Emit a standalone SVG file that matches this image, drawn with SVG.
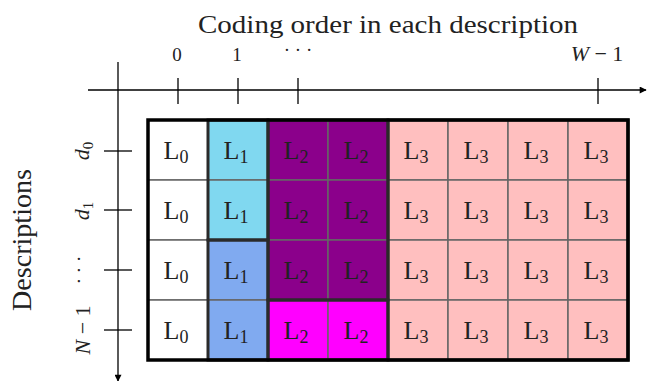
<svg xmlns="http://www.w3.org/2000/svg" width="648" height="381" viewBox="0 0 648 381" font-family="'Liberation Serif', 'DejaVu Serif', serif">
<defs>
<marker id="arr" viewBox="0 0 10 10" refX="9" refY="5" markerWidth="8" markerHeight="7" markerUnits="userSpaceOnUse" orient="auto"><path d="M0,0 L10,5 L0,10 z" fill="#000"/></marker>
<style>
.t{font-family:'Liberation Serif','DejaVu Serif',serif;fill:#222;}
.c{stroke:#666;stroke-width:1.5;}
.lbl{font-size:26px;text-anchor:middle;}
.sub{font-size:18px;}
.grp{fill:none;stroke:#2a2a2a;stroke-width:3;}
.ax{stroke:#000;stroke-width:1.3;fill:none;}
.w{fill:#ffffff}.c1{fill:#80d8f0}.c1b{fill:#80aaf0}.c2{fill:#8b008b}.c2b{fill:#ff00ff}.c3{fill:#ffbfbf}
</style>
</defs>
<rect width="648" height="381" fill="#fff"/>
<text class="t" x="388" y="33" font-size="26" text-anchor="middle" textLength="380" lengthAdjust="spacingAndGlyphs">Coding order in each description</text>
<text class="t" x="177" y="61" font-size="19" text-anchor="middle">0</text>
<text class="t" x="237" y="61" font-size="19" text-anchor="middle">1</text>
<text class="t" x="298" y="56" font-size="19" text-anchor="middle">· · ·</text>
<text class="t" x="597" y="61" font-size="22" text-anchor="middle"><tspan font-style="italic">W</tspan> − 1</text>
<text class="t" font-size="27" text-anchor="middle" transform="translate(31,240) rotate(-90)" textLength="142" lengthAdjust="spacingAndGlyphs">Descriptions</text>
<text class="t" font-size="22" text-anchor="middle" transform="translate(89,151) rotate(-90)"><tspan font-style="italic">d</tspan><tspan font-size="15" dy="4">0</tspan></text>
<text class="t" font-size="22" text-anchor="middle" transform="translate(89,211) rotate(-90)"><tspan font-style="italic">d</tspan><tspan font-size="15" dy="4">1</tspan></text>
<text class="t" font-size="19" text-anchor="middle" transform="translate(85,270) rotate(-90)">· · ·</text>
<text class="t" font-size="22" text-anchor="middle" transform="translate(90,330) rotate(-90)"><tspan font-style="italic">N</tspan> − 1</text>
<g id="connectors">
<line class="ax" x1="88" y1="90" x2="646" y2="90" marker-end="url(#arr)"/>
<line class="ax" x1="118" y1="62" x2="118" y2="381" marker-end="url(#arr)" stroke="#555"/>
<line class="ax" x1="178" y1="78" x2="178" y2="104"/>
<line class="ax" x1="238" y1="78" x2="238" y2="104"/>
<line class="ax" x1="298" y1="78" x2="298" y2="104"/>
<line class="ax" x1="598" y1="78" x2="598" y2="104"/>
<line class="ax" x1="104" y1="151" x2="132" y2="151"/>
<line class="ax" x1="104" y1="210" x2="132" y2="210"/>
<line class="ax" x1="104" y1="270" x2="132" y2="270"/>
<line class="ax" x1="104" y1="330" x2="132" y2="330"/>
</g>
<g id="r0c0"><rect class="c w" x="148" y="120" width="60" height="60"/><text class="t lbl" x="176" y="159">L<tspan class="sub" dy="4">0</tspan></text></g>
<g id="r1c0"><rect class="c w" x="148" y="180" width="60" height="60"/><text class="t lbl" x="176" y="219">L<tspan class="sub" dy="4">0</tspan></text></g>
<g id="r2c0"><rect class="c w" x="148" y="240" width="60" height="60"/><text class="t lbl" x="176" y="279">L<tspan class="sub" dy="4">0</tspan></text></g>
<g id="r3c0"><rect class="c w" x="148" y="300" width="60" height="60"/><text class="t lbl" x="176" y="339">L<tspan class="sub" dy="4">0</tspan></text></g>
<g id="r0c1"><rect class="c c1" x="208" y="120" width="60" height="60"/><text class="t lbl" x="236" y="159">L<tspan class="sub" dy="4">1</tspan></text></g>
<g id="r1c1"><rect class="c c1" x="208" y="180" width="60" height="60"/><text class="t lbl" x="236" y="219">L<tspan class="sub" dy="4">1</tspan></text></g>
<g id="r2c1"><rect class="c c1b" x="208" y="240" width="60" height="60"/><text class="t lbl" x="236" y="279">L<tspan class="sub" dy="4">1</tspan></text></g>
<g id="r3c1"><rect class="c c1b" x="208" y="300" width="60" height="60"/><text class="t lbl" x="236" y="339">L<tspan class="sub" dy="4">1</tspan></text></g>
<g id="r0c2"><rect class="c c2" x="268" y="120" width="60" height="60" stroke="#222"/><text class="t lbl" x="296" y="159">L<tspan class="sub" dy="4">2</tspan></text></g>
<g id="r0c3"><rect class="c c2" x="328" y="120" width="60" height="60" stroke="#222"/><text class="t lbl" x="356" y="159">L<tspan class="sub" dy="4">2</tspan></text></g>
<g id="r1c2"><rect class="c c2" x="268" y="180" width="60" height="60" stroke="#222"/><text class="t lbl" x="296" y="219">L<tspan class="sub" dy="4">2</tspan></text></g>
<g id="r1c3"><rect class="c c2" x="328" y="180" width="60" height="60" stroke="#222"/><text class="t lbl" x="356" y="219">L<tspan class="sub" dy="4">2</tspan></text></g>
<g id="r2c2"><rect class="c c2" x="268" y="240" width="60" height="60" stroke="#222"/><text class="t lbl" x="296" y="279">L<tspan class="sub" dy="4">2</tspan></text></g>
<g id="r2c3"><rect class="c c2" x="328" y="240" width="60" height="60" stroke="#222"/><text class="t lbl" x="356" y="279">L<tspan class="sub" dy="4">2</tspan></text></g>
<g id="r3c2"><rect class="c c2b" x="268" y="300" width="60" height="60" stroke="#222"/><text class="t lbl" x="296" y="339">L<tspan class="sub" dy="4">2</tspan></text></g>
<g id="r3c3"><rect class="c c2b" x="328" y="300" width="60" height="60" stroke="#222"/><text class="t lbl" x="356" y="339">L<tspan class="sub" dy="4">2</tspan></text></g>
<g id="r0c4"><rect class="c c3" x="388" y="120" width="60" height="60"/><text class="t lbl" x="416" y="159">L<tspan class="sub" dy="4">3</tspan></text></g>
<g id="r0c5"><rect class="c c3" x="448" y="120" width="60" height="60"/><text class="t lbl" x="476" y="159">L<tspan class="sub" dy="4">3</tspan></text></g>
<g id="r0c6"><rect class="c c3" x="508" y="120" width="60" height="60"/><text class="t lbl" x="536" y="159">L<tspan class="sub" dy="4">3</tspan></text></g>
<g id="r0c7"><rect class="c c3" x="568" y="120" width="60" height="60"/><text class="t lbl" x="596" y="159">L<tspan class="sub" dy="4">3</tspan></text></g>
<g id="r1c4"><rect class="c c3" x="388" y="180" width="60" height="60"/><text class="t lbl" x="416" y="219">L<tspan class="sub" dy="4">3</tspan></text></g>
<g id="r1c5"><rect class="c c3" x="448" y="180" width="60" height="60"/><text class="t lbl" x="476" y="219">L<tspan class="sub" dy="4">3</tspan></text></g>
<g id="r1c6"><rect class="c c3" x="508" y="180" width="60" height="60"/><text class="t lbl" x="536" y="219">L<tspan class="sub" dy="4">3</tspan></text></g>
<g id="r1c7"><rect class="c c3" x="568" y="180" width="60" height="60"/><text class="t lbl" x="596" y="219">L<tspan class="sub" dy="4">3</tspan></text></g>
<g id="r2c4"><rect class="c c3" x="388" y="240" width="60" height="60"/><text class="t lbl" x="416" y="279">L<tspan class="sub" dy="4">3</tspan></text></g>
<g id="r2c5"><rect class="c c3" x="448" y="240" width="60" height="60"/><text class="t lbl" x="476" y="279">L<tspan class="sub" dy="4">3</tspan></text></g>
<g id="r2c6"><rect class="c c3" x="508" y="240" width="60" height="60"/><text class="t lbl" x="536" y="279">L<tspan class="sub" dy="4">3</tspan></text></g>
<g id="r2c7"><rect class="c c3" x="568" y="240" width="60" height="60"/><text class="t lbl" x="596" y="279">L<tspan class="sub" dy="4">3</tspan></text></g>
<g id="r3c4"><rect class="c c3" x="388" y="300" width="60" height="60"/><text class="t lbl" x="416" y="339">L<tspan class="sub" dy="4">3</tspan></text></g>
<g id="r3c5"><rect class="c c3" x="448" y="300" width="60" height="60"/><text class="t lbl" x="476" y="339">L<tspan class="sub" dy="4">3</tspan></text></g>
<g id="r3c6"><rect class="c c3" x="508" y="300" width="60" height="60"/><text class="t lbl" x="536" y="339">L<tspan class="sub" dy="4">3</tspan></text></g>
<g id="r3c7"><rect class="c c3" x="568" y="300" width="60" height="60"/><text class="t lbl" x="596" y="339">L<tspan class="sub" dy="4">3</tspan></text></g>
<g id="groups">
<rect class="grp" x="208" y="120" width="60" height="120"/>
<rect class="grp" x="208" y="240" width="60" height="120"/>
<rect class="grp" x="268" y="120" width="120" height="180"/>
<rect class="grp" x="268" y="300" width="120" height="60"/>
<rect class="grp" x="388" y="120" width="240" height="240"/>
<rect x="148" y="120" width="480" height="240" fill="none" stroke="#000" stroke-width="3.5"/>
</g>
</svg>
